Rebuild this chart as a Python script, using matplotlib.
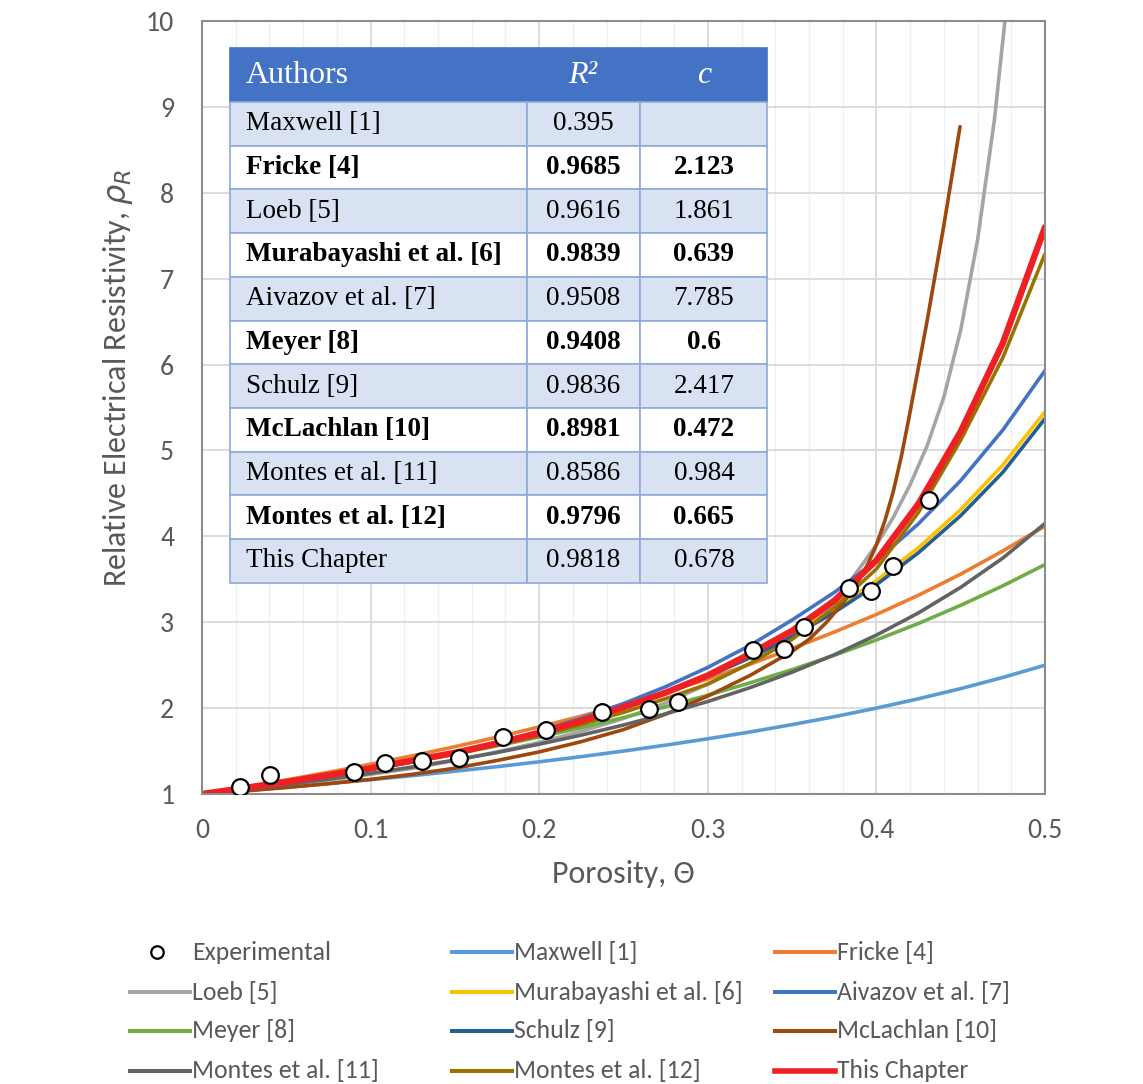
import numpy as np
import matplotlib
matplotlib.use("Agg")
import matplotlib.pyplot as plt
from matplotlib import font_manager as fm
from matplotlib.lines import Line2D
from matplotlib.patches import Rectangle

# values
theta = [0, .025, .05, .075, .1, .125, .15, .175, .2, .225, .25,
         .275, .3, .325, .35, .375, .4, .425, .45, .475, .5]
maxwell = [1.000, 1.038, 1.079, 1.122, 1.167, 1.214, 1.265, 1.318, 1.375, 1.435, 1.500,
           1.569, 1.643, 1.722, 1.808, 1.900, 2.000, 2.109, 2.227, 2.357, 2.500]
fricke = [1.000, 1.080, 1.164, 1.253, 1.347, 1.446, 1.551, 1.662, 1.781, 1.907, 2.041,
          2.185, 2.338, 2.510, 2.695, 2.885, 3.090, 3.315, 3.560, 3.830, 4.120]
murabayashi = [1.000, 1.062, 1.130, 1.204, 1.287, 1.378, 1.479, 1.590, 1.714, 1.852, 2.006,
               2.180, 2.378, 2.605, 2.862, 3.152, 3.485, 3.868, 4.310, 4.830, 5.450]
aivazov = [1.000, 1.060, 1.128, 1.202, 1.285, 1.378, 1.482, 1.599, 1.731, 1.882, 2.053,
           2.249, 2.474, 2.730, 3.026, 3.347, 3.717, 4.147, 4.649, 5.238, 5.930]
meyer = [1.000, 1.066, 1.136, 1.210, 1.290, 1.374, 1.465, 1.561, 1.663, 1.773, 1.890,
         2.015, 2.150, 2.294, 2.448, 2.615, 2.794, 2.986, 3.197, 3.424, 3.671]
schulz = [1.000, 1.063, 1.132, 1.207, 1.290, 1.381, 1.481, 1.592, 1.715, 1.852, 2.004,
          2.176, 2.368, 2.586, 2.833, 3.114, 3.437, 3.810, 4.241, 4.746, 5.370]
montes11 = [1.000, 1.053, 1.111, 1.173, 1.241, 1.315, 1.395, 1.483, 1.580, 1.686, 1.803,
            1.933, 2.077, 2.238, 2.418, 2.621, 2.850, 3.109, 3.406, 3.747, 4.150]
montes12 = [1.000, 1.065, 1.135, 1.210, 1.290, 1.375, 1.465, 1.570, 1.680, 1.810, 1.950,
            2.110, 2.280, 2.520, 2.800, 3.170, 3.620, 4.280, 5.120, 6.080, 7.290]
this_chapter = [1.000, 1.070, 1.140, 1.220, 1.300, 1.390, 1.480, 1.590, 1.710, 1.850, 2.010,
                2.180, 2.380, 2.630, 2.900, 3.250, 3.720, 4.380, 5.220, 6.250, 7.600]

loeb_theta = [0, .025, .05, .075, .1, .125, .15, .175, .2, .225, .25, .275, .3, .325,
              .35, .375, .4, .41, .42, .43, .44, .45, .46, .47, .48]
loeb = [1.000, 1.050, 1.100, 1.160, 1.230, 1.300, 1.390, 1.490, 1.600, 1.730, 1.880, 2.060,
        2.280, 2.520, 2.820, 3.220, 3.900, 4.220, 4.600, 5.050, 5.620, 6.400, 7.450, 8.850, 10.700]

mclachlan_theta = [0, .025, .05, .075, .1, .125, .15, .175, .2, .225, .25, .275, .3, .325,
                   .35, .36, .37, .38, .39, .395, .4, .405, .41, .415, .42, .43, .44, .4496]
mclachlan = [1.000, 1.035, 1.075, 1.120, 1.170, 1.230, 1.300, 1.390, 1.490, 1.610, 1.750, 1.930,
             2.140, 2.380, 2.660, 2.800, 2.990, 3.220, 3.500, 3.680, 3.900, 4.180, 4.520, 4.950,
             5.450, 6.500, 7.620, 8.770]

exp_theta = [0.0225, 0.0403, 0.090, 0.1085, 0.1303, 0.1524, 0.1787, 0.204, 0.237,
             0.265, 0.2825, 0.327, 0.345, 0.357, 0.3837, 0.3968, 0.410, 0.4314]
exp_rho = [1.08, 1.22, 1.26, 1.36, 1.38, 1.42, 1.66, 1.75, 1.95,
           1.99, 2.07, 2.68, 2.69, 2.94, 3.40, 3.36, 3.65, 4.42]

# table inset
table_authors = ["Maxwell [1]", "Fricke [4]", "Loeb [5]", "Murabayashi et al. [6]",
                 "Aivazov et al. [7]", "Meyer [8]", "Schulz [9]", "McLachlan [10]",
                 "Montes et al. [11]", "Montes et al. [12]", "This Chapter"]
table_r2 = ["0.395", "0.9685", "0.9616", "0.9839", "0.9508", "0.9408",
            "0.9836", "0.8981", "0.8586", "0.9796", "0.9818"]
table_c = ["", "2.123", "1.861", "0.639", "7.785", "0.6",
           "2.417", "0.472", "0.984", "0.665", "0.678"]

names = {f.name for f in fm.fontManager.ttflist}


def pick(*cands):
    for c in cands:
        if c in names:
            return c
    return "DejaVu Sans"


SANS = pick("Carlito", "Liberation Sans Narrow", "Open Sans")
SERIF = pick("Liberation Serif", "DejaVu Serif")
GREY = "#595959"

W, H = 1143, 1084
fig = plt.figure(figsize=(W / 100, H / 100), dpi=100)
ax = fig.add_axes([202 / W, 290 / H, 843 / W, 773 / H])

series = [
    ("Maxwell [1]", theta, maxwell, "#5B9BD5", 2.6),
    ("Fricke [4]", theta, fricke, "#ED7D31", 2.6),
    ("Loeb [5]", loeb_theta, loeb, "#A5A5A5", 2.6),
    ("Murabayashi et al. [6]", theta, murabayashi, "#FFC000", 2.6),
    ("Aivazov et al. [7]", theta, aivazov, "#4472C4", 2.6),
    ("Meyer [8]", theta, meyer, "#70AD47", 2.6),
    ("Schulz [9]", theta, schulz, "#255E91", 2.6),
    ("McLachlan [10]", mclachlan_theta, mclachlan, "#9E480E", 2.6),
    ("Montes et al. [11]", theta, montes11, "#636363", 2.6),
    ("Montes et al. [12]", theta, montes12, "#997300", 2.6),
    ("This Chapter", theta, this_chapter, "#EE2024", 4.6),
]

ax.plot(exp_theta, exp_rho, "o", ms=12, mfc="white", mec="black", mew=1.6, zorder=10)
for name, xs, ys, col, lw in series:
    ax.plot(xs, ys, color=col, lw=lw, solid_capstyle="round", solid_joinstyle="round")

ax.set_xlim(0, 0.5)
ax.set_ylim(1, 10)
ax.set_xticks(np.arange(0, 0.51, 0.1))
ax.set_xticks(np.arange(0, 0.51, 0.02), minor=True)
ax.set_yticks(range(1, 11))
ax.set_xticklabels(["0", "0.1", "0.2", "0.3", "0.4", "0.5"])
ax.grid(True, which="major", color="#D9D9D9", lw=1.3, zorder=0)
ax.grid(True, which="minor", axis="x", color="#EDF0F3", lw=1.0, zorder=0)
ax.set_axisbelow(True)
ax.tick_params(which="both", length=0)
ax.tick_params(axis="x", pad=17, labelsize=20, labelcolor=GREY)
ax.tick_params(axis="y", pad=20, labelsize=20, labelcolor=GREY)
for lab in ax.get_xticklabels() + ax.get_yticklabels():
    lab.set_family(SANS)
for sp in ax.spines.values():
    sp.set_color("#8C8C8C")
    sp.set_linewidth(1.5)

ax.set_xlabel("Porosity, Θ", fontsize=23, color=GREY, family=SANS)
ax.set_ylabel("Relative Electrical Resistivity, $\\rho_R$", fontsize=23, color=GREY, family=SANS)
ax.xaxis.set_label_coords(0.5, -0.085)
ax.yaxis.set_label_coords(-0.080, 0.538)


# table drawn in axes fraction
def fx(px):
    return (px - 202) / 843


def fy(py):
    return (794 - py) / 773


col_edges = [230, 527, 640, 767]
row_top = 48
head_h = 54
row_h = 43.7
border = "#8EAADB"
tk = dict(transform=ax.transAxes, zorder=6, clip_on=False)

ax.add_patch(Rectangle((fx(col_edges[0]), fy(row_top + head_h)), fx(col_edges[-1]) - fx(col_edges[0]),
                       head_h / 773, facecolor="#4472C4", edgecolor="#4472C4", lw=1.2, **tk))
yc = row_top + head_h / 2
ax.text(fx(246), fy(yc), "Authors", color="white", fontsize=23, family=SERIF, va="center", **tk)
ax.text(fx(583), fy(yc), "R²", color="white", fontsize=23, family=SERIF, style="italic",
        ha="center", va="center", **tk)
ax.text(fx(704), fy(yc), "c", color="white", fontsize=23, family=SERIF, style="italic",
        ha="center", va="center", **tk)

for i, (a, r2, c) in enumerate(zip(table_authors, table_r2, table_c)):
    top = row_top + head_h + i * row_h
    face = "#D9E2F3" if i % 2 == 0 else "white"
    weight = "bold" if i % 2 == 1 else "normal"
    for j in range(3):
        ax.add_patch(Rectangle((fx(col_edges[j]), fy(top + row_h)),
                               fx(col_edges[j + 1]) - fx(col_edges[j]), row_h / 773,
                               facecolor=face, edgecolor=border, lw=1.2, **tk))
    ym = fy(top + row_h / 2)
    ax.text(fx(246), ym, a, fontsize=19.5, family=SERIF, weight=weight, va="center", **tk)
    ax.text(fx(583), ym, r2, fontsize=19.5, family=SERIF, weight=weight, ha="center", va="center", **tk)
    ax.text(fx(704), ym, c, fontsize=19.5, family=SERIF, weight=weight, ha="center", va="center", **tk)

# legend: 4 rows x 3 equal-width columns, filled row by row
legend_rows = [952, 992, 1031, 1071]
legend_cols = [130, 452, 775]
entries = [("Experimental", None, 0)] + [(s[0], s[3], s[4]) for s in series]
for k, (name, col, lw) in enumerate(entries):
    x0 = legend_cols[k % 3]
    yy = 1 - legend_rows[k // 3] / H
    if col is None:
        fig.add_artist(Line2D([(x0 + 27) / W], [yy], marker="o", ms=9, mfc="white",
                              mec="black", mew=1.6, ls="none"))
    else:
        fig.add_artist(Line2D([x0 / W, (x0 + 60) / W], [yy, yy], color=col,
                              lw=4.0 if lw > 3 else 2.9))
    fig.text((x0 + 62) / W, yy, name, fontsize=18.5, family=SANS, color=GREY, va="center")

fig.savefig("out.png", dpi=100, facecolor="white")
